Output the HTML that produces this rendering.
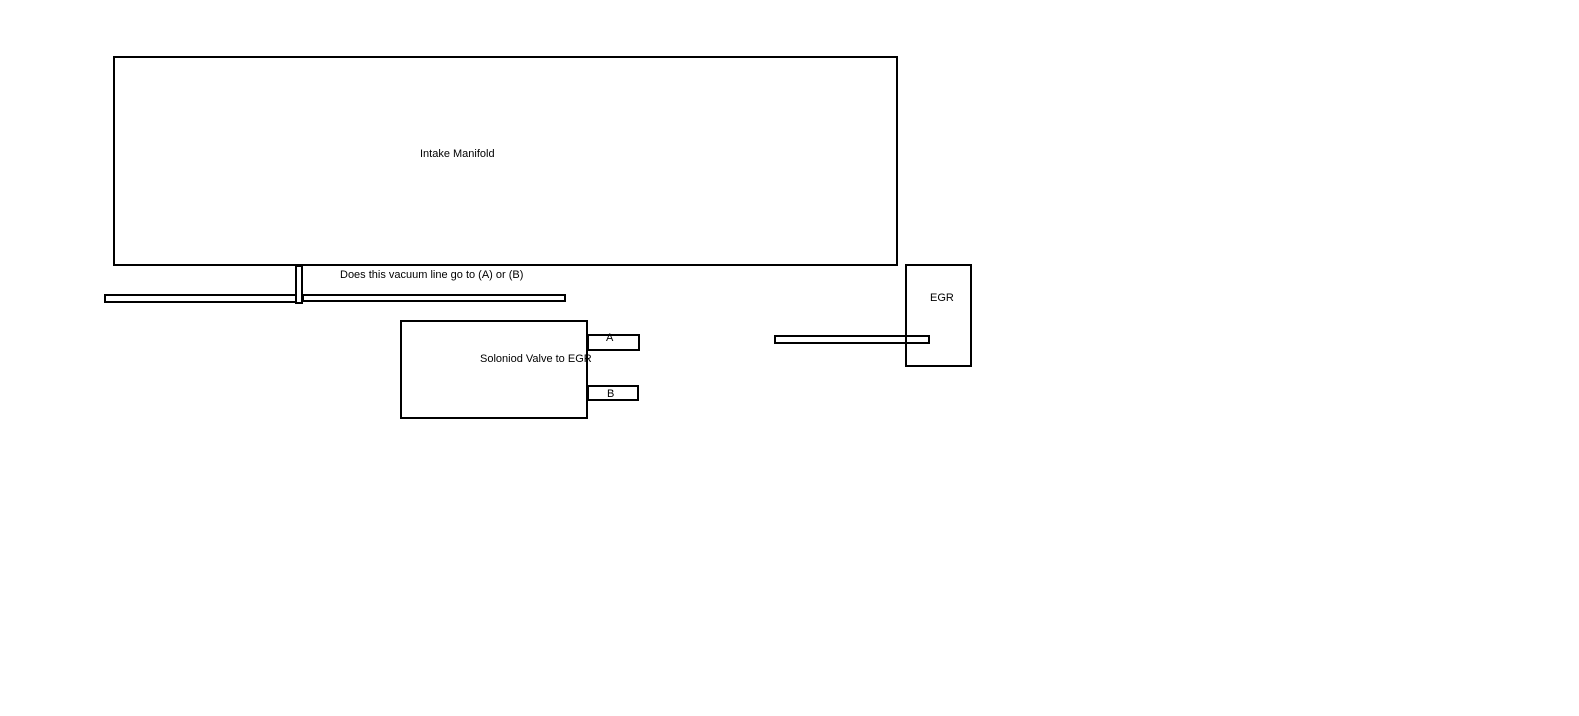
<!DOCTYPE html>
<html><head><style>
body{margin:0;width:1579px;height:716px;background:#fff;position:relative;overflow:hidden;font-family:"Liberation Sans",sans-serif;font-size:11px;color:#000}
.b{position:absolute;border:2px solid #000;box-sizing:border-box}
.t{position:absolute;white-space:nowrap}
</style></head><body>
<div class="b" style="left:113px;top:56px;width:785px;height:210px"></div>
<div class="t" style="left:420px;top:148px">Intake Manifold</div>
<div class="b" style="left:104px;top:294px;width:193px;height:9px"></div>
<div class="b" style="left:302px;top:294px;width:264px;height:8px"></div>
<div class="b" style="left:295px;top:265px;width:8px;height:39px"></div>
<div class="t" style="left:340px;top:269px">Does this vacuum line go to (A) or (B)</div>
<div class="b" style="left:400px;top:320px;width:188px;height:99px"></div>
<div class="t" style="left:480px;top:353px">Soloniod Valve to EGR</div>
<div class="b" style="left:587px;top:334px;width:53px;height:17px"></div>
<div class="t" style="left:606px;top:332px">A</div>
<div class="b" style="left:587px;top:385px;width:52px;height:16px"></div>
<div class="t" style="left:607px;top:388px">B</div>
<div class="b" style="left:905px;top:264px;width:67px;height:103px"></div>
<div class="t" style="left:930px;top:292px">EGR</div>
<div class="b" style="left:774px;top:335px;width:156px;height:9px"></div>
</body></html>
